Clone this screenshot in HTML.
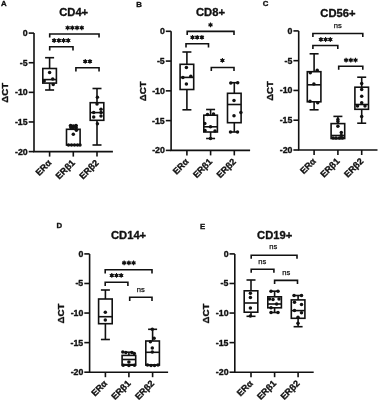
<!DOCTYPE html>
<html><head><meta charset="utf-8"><style>
html,body{margin:0;padding:0;background:#fff;}
body{width:378px;height:400px;overflow:hidden;}
svg{display:block;will-change:transform;}
text{font-family:"Liberation Sans", sans-serif;fill:#111;stroke:#111;stroke-width:0.35px;stroke-linejoin:round;}
text.ns{stroke-width:0.25px;}
circle{stroke:none;}
</style></head><body>
<svg width="378" height="400" viewBox="0 0 378 400">
<rect width="378" height="400" fill="#fff"/>
<g stroke="#111" fill="#111" stroke-linecap="butt">
<path d="M34,33.1 V151.6 M33.2,151.6 H112.9" stroke-width="1.6" fill="none"/>
<line x1="28.7" y1="33.1" x2="34" y2="33.1" stroke-width="1.6"/>
<text x="22.87" y="36.13" font-size="8.8" font-weight="bold">0</text>
<line x1="28.7" y1="62.73" x2="34" y2="62.73" stroke-width="1.6"/>
<text x="19.82" y="65.71" font-size="8.8" font-weight="bold">-5</text>
<line x1="28.7" y1="92.35" x2="34" y2="92.35" stroke-width="1.6"/>
<text x="15.04" y="95.38" font-size="8.8" font-weight="bold">-10</text>
<line x1="28.7" y1="121.97" x2="34" y2="121.97" stroke-width="1.6"/>
<text x="14.93" y="124.96" font-size="8.8" font-weight="bold">-15</text>
<line x1="28.7" y1="151.6" x2="34" y2="151.6" stroke-width="1.6"/>
<text x="15.04" y="154.63" font-size="8.8" font-weight="bold">-20</text>
<line x1="49.6" y1="151.6" x2="49.6" y2="156.6" stroke-width="1.6"/>
<text transform="translate(51.9,163.4) rotate(-45)" x="0" y="0" text-anchor="end" font-size="9" font-weight="bold">ERα</text>
<line x1="73.3" y1="151.6" x2="73.3" y2="156.6" stroke-width="1.6"/>
<text transform="translate(75.6,163.4) rotate(-45)" x="0" y="0" text-anchor="end" font-size="9" font-weight="bold">ERβ1</text>
<line x1="97" y1="151.6" x2="97" y2="156.6" stroke-width="1.6"/>
<text transform="translate(99.3,163.4) rotate(-45)" x="0" y="0" text-anchor="end" font-size="9" font-weight="bold">ERβ2</text>
<text transform="translate(4.4,92.65) rotate(-90)" x="-10.1" y="3.34" font-size="9.7" font-weight="bold">ΔCT</text>
<text x="59.22" y="16.46" font-size="11.2" font-weight="bold">CD4+</text>
<text x="0.99" y="6.38" font-size="7.8" font-weight="bold">A</text>
<line x1="49.6" y1="57.7" x2="49.6" y2="68.5" stroke-width="1.6"/>
<line x1="49.6" y1="83.1" x2="49.6" y2="90" stroke-width="1.6"/>
<line x1="45.1" y1="57.7" x2="54.1" y2="57.7" stroke-width="1.6"/>
<line x1="45.1" y1="90" x2="54.1" y2="90" stroke-width="1.6"/>
<rect x="42.8" y="68.5" width="13.6" height="14.6" fill="none" stroke-width="1.6"/>
<line x1="42.8" y1="79.6" x2="56.4" y2="79.6" stroke-width="1.6"/>
<circle cx="49.6" cy="72.4" r="1.75"/>
<circle cx="44.2" cy="81.1" r="1.75"/>
<circle cx="52.7" cy="79" r="1.75"/>
<circle cx="53.2" cy="84.6" r="1.75"/>
<line x1="73.3" y1="125.7" x2="73.3" y2="129.3" stroke-width="1.6"/>
<line x1="68.8" y1="125.7" x2="77.8" y2="125.7" stroke-width="1.6"/>
<line x1="68.8" y1="145" x2="77.8" y2="145" stroke-width="1.6"/>
<rect x="66.5" y="129.3" width="13.6" height="15.7" fill="none" stroke-width="1.6"/>
<line x1="66.5" y1="145" x2="80.1" y2="145" stroke-width="1.6"/>
<circle cx="70.6" cy="125.6" r="1.75"/>
<circle cx="73.3" cy="126" r="1.75"/>
<circle cx="76" cy="125.4" r="1.75"/>
<circle cx="70.8" cy="127.6" r="1.75"/>
<circle cx="73.3" cy="127.8" r="1.75"/>
<circle cx="76.2" cy="127.8" r="1.75"/>
<circle cx="76.4" cy="130.2" r="1.75"/>
<circle cx="73.3" cy="134.2" r="1.75"/>
<circle cx="68.5" cy="145" r="1.75"/>
<circle cx="71.5" cy="145" r="1.75"/>
<circle cx="74.5" cy="145" r="1.75"/>
<circle cx="77.5" cy="145" r="1.75"/>
<circle cx="80" cy="145" r="1.75"/>
<line x1="97" y1="88.5" x2="97" y2="102.7" stroke-width="1.6"/>
<line x1="97" y1="120.3" x2="97" y2="145" stroke-width="1.6"/>
<line x1="92.5" y1="88.5" x2="101.5" y2="88.5" stroke-width="1.6"/>
<line x1="92.5" y1="145" x2="101.5" y2="145" stroke-width="1.6"/>
<rect x="90.2" y="102.7" width="13.6" height="17.6" fill="none" stroke-width="1.6"/>
<line x1="90.2" y1="112.6" x2="103.8" y2="112.6" stroke-width="1.6"/>
<circle cx="97.4" cy="97.3" r="1.75"/>
<circle cx="97" cy="104.1" r="1.75"/>
<circle cx="101" cy="109.2" r="1.75"/>
<circle cx="93.7" cy="112.6" r="1.75"/>
<circle cx="101" cy="112.6" r="1.75"/>
<circle cx="93.7" cy="116.9" r="1.75"/>
<circle cx="101" cy="116" r="1.75"/>
<circle cx="97.4" cy="123.7" r="1.75"/>
<path d="M49.7,37.6 V34 H99.05 V37.6" stroke-width="1.6" fill="none"/>
<circle cx="67.65" cy="27.8" r="1.65"/>
<path d="M67.65,25.4L67.65,30.2M69.73,26.6L65.57,29M69.73,29L65.57,26.6" stroke-width="1.1" fill="none"/>
<circle cx="72.35" cy="27.8" r="1.65"/>
<path d="M72.35,25.4L72.35,30.2M74.43,26.6L70.27,29M74.43,29L70.27,26.6" stroke-width="1.1" fill="none"/>
<circle cx="77.05" cy="27.8" r="1.65"/>
<path d="M77.05,25.4L77.05,30.2M79.13,26.6L74.97,29M79.13,29L74.97,26.6" stroke-width="1.1" fill="none"/>
<circle cx="81.75" cy="27.8" r="1.65"/>
<path d="M81.75,25.4L81.75,30.2M83.83,26.6L79.67,29M83.83,29L79.67,26.6" stroke-width="1.1" fill="none"/>
<path d="M49.7,50.4 V46.8 H73 V50.4" stroke-width="1.6" fill="none"/>
<circle cx="54.15" cy="40.5" r="1.65"/>
<path d="M54.15,38.1L54.15,42.9M56.23,39.3L52.07,41.7M56.23,41.7L52.07,39.3" stroke-width="1.1" fill="none"/>
<circle cx="58.85" cy="40.5" r="1.65"/>
<path d="M58.85,38.1L58.85,42.9M60.93,39.3L56.77,41.7M60.93,41.7L56.77,39.3" stroke-width="1.1" fill="none"/>
<circle cx="63.55" cy="40.5" r="1.65"/>
<path d="M63.55,38.1L63.55,42.9M65.63,39.3L61.47,41.7M65.63,41.7L61.47,39.3" stroke-width="1.1" fill="none"/>
<circle cx="68.25" cy="40.5" r="1.65"/>
<path d="M68.25,38.1L68.25,42.9M70.33,39.3L66.17,41.7M70.33,41.7L66.17,39.3" stroke-width="1.1" fill="none"/>
<path d="M75.9,71.4 V67.8 H99.05 V71.4" stroke-width="1.6" fill="none"/>
<circle cx="85.25" cy="61.4" r="1.65"/>
<path d="M85.25,59L85.25,63.8M87.33,60.2L83.17,62.6M87.33,62.6L83.17,60.2" stroke-width="1.1" fill="none"/>
<circle cx="89.95" cy="61.4" r="1.65"/>
<path d="M89.95,59L89.95,63.8M92.03,60.2L87.87,62.6M92.03,62.6L87.87,60.2" stroke-width="1.1" fill="none"/>
<path d="M171.1,31.3 V150.4 M170.3,150.4 H250.1" stroke-width="1.6" fill="none"/>
<line x1="165.8" y1="31.3" x2="171.1" y2="31.3" stroke-width="1.6"/>
<text x="159.97" y="34.33" font-size="8.8" font-weight="bold">0</text>
<line x1="165.8" y1="61.08" x2="171.1" y2="61.08" stroke-width="1.6"/>
<text x="156.92" y="64.06" font-size="8.8" font-weight="bold">-5</text>
<line x1="165.8" y1="90.85" x2="171.1" y2="90.85" stroke-width="1.6"/>
<text x="152.14" y="93.88" font-size="8.8" font-weight="bold">-10</text>
<line x1="165.8" y1="120.62" x2="171.1" y2="120.62" stroke-width="1.6"/>
<text x="152.03" y="123.61" font-size="8.8" font-weight="bold">-15</text>
<line x1="165.8" y1="150.4" x2="171.1" y2="150.4" stroke-width="1.6"/>
<text x="152.14" y="153.43" font-size="8.8" font-weight="bold">-20</text>
<line x1="186.9" y1="150.4" x2="186.9" y2="155.4" stroke-width="1.6"/>
<text transform="translate(189.2,162.2) rotate(-45)" x="0" y="0" text-anchor="end" font-size="9" font-weight="bold">ERα</text>
<line x1="210.6" y1="150.4" x2="210.6" y2="155.4" stroke-width="1.6"/>
<text transform="translate(212.9,162.2) rotate(-45)" x="0" y="0" text-anchor="end" font-size="9" font-weight="bold">ERβ1</text>
<line x1="234.3" y1="150.4" x2="234.3" y2="155.4" stroke-width="1.6"/>
<text transform="translate(236.6,162.2) rotate(-45)" x="0" y="0" text-anchor="end" font-size="9" font-weight="bold">ERβ2</text>
<text transform="translate(142.5,91.15) rotate(-90)" x="-10.1" y="3.34" font-size="9.7" font-weight="bold">ΔCT</text>
<text x="196.02" y="16.26" font-size="11.2" font-weight="bold">CD8+</text>
<text x="136.2" y="6.58" font-size="7.8" font-weight="bold">B</text>
<line x1="186.9" y1="52" x2="186.9" y2="64.3" stroke-width="1.6"/>
<line x1="186.9" y1="89.5" x2="186.9" y2="109.8" stroke-width="1.6"/>
<line x1="182.4" y1="52" x2="191.4" y2="52" stroke-width="1.6"/>
<line x1="182.4" y1="109.8" x2="191.4" y2="109.8" stroke-width="1.6"/>
<rect x="180.1" y="64.3" width="13.6" height="25.2" fill="none" stroke-width="1.6"/>
<line x1="180.1" y1="77.4" x2="193.7" y2="77.4" stroke-width="1.6"/>
<circle cx="186.4" cy="67.4" r="1.75"/>
<circle cx="182.9" cy="77.4" r="1.75"/>
<circle cx="190.8" cy="76.2" r="1.75"/>
<circle cx="186.4" cy="83.9" r="1.75"/>
<line x1="210.6" y1="109.5" x2="210.6" y2="115.2" stroke-width="1.6"/>
<line x1="210.6" y1="132" x2="210.6" y2="138.5" stroke-width="1.6"/>
<line x1="206.1" y1="109.5" x2="215.1" y2="109.5" stroke-width="1.6"/>
<line x1="206.1" y1="138.5" x2="215.1" y2="138.5" stroke-width="1.6"/>
<rect x="203.8" y="115.2" width="13.6" height="16.8" fill="none" stroke-width="1.6"/>
<line x1="203.8" y1="126.8" x2="217.4" y2="126.8" stroke-width="1.6"/>
<circle cx="207.5" cy="114.5" r="1.75"/>
<circle cx="213.5" cy="114" r="1.75"/>
<circle cx="204.8" cy="123.5" r="1.75"/>
<circle cx="210.5" cy="126.8" r="1.75"/>
<circle cx="205" cy="130.5" r="1.75"/>
<circle cx="215" cy="131" r="1.75"/>
<circle cx="210.5" cy="138.5" r="1.75"/>
<line x1="234.3" y1="82.7" x2="234.3" y2="93.3" stroke-width="1.6"/>
<line x1="234.3" y1="122.7" x2="234.3" y2="132" stroke-width="1.6"/>
<line x1="229.8" y1="82.7" x2="238.8" y2="82.7" stroke-width="1.6"/>
<line x1="229.8" y1="132" x2="238.8" y2="132" stroke-width="1.6"/>
<rect x="227.5" y="93.3" width="13.6" height="29.4" fill="none" stroke-width="1.6"/>
<line x1="227.5" y1="104.5" x2="241.1" y2="104.5" stroke-width="1.6"/>
<circle cx="230.8" cy="82.9" r="1.75"/>
<circle cx="237.7" cy="82.7" r="1.75"/>
<circle cx="234" cy="100.5" r="1.75"/>
<circle cx="240.9" cy="112.5" r="1.75"/>
<circle cx="234" cy="115.7" r="1.75"/>
<circle cx="230.5" cy="132" r="1.75"/>
<circle cx="237.5" cy="132" r="1.75"/>
<path d="M187.2,35 V31.4 H234 V35" stroke-width="1.6" fill="none"/>
<circle cx="210.5" cy="24.9" r="1.65"/>
<path d="M210.5,22.5L210.5,27.3M212.58,23.7L208.42,26.1M212.58,26.1L208.42,23.7" stroke-width="1.1" fill="none"/>
<path d="M186,47.4 V43.8 H208.5 V47.4" stroke-width="1.6" fill="none"/>
<circle cx="192.5" cy="37.3" r="1.65"/>
<path d="M192.5,34.9L192.5,39.7M194.58,36.1L190.42,38.5M194.58,38.5L190.42,36.1" stroke-width="1.1" fill="none"/>
<circle cx="197.2" cy="37.3" r="1.65"/>
<path d="M197.2,34.9L197.2,39.7M199.28,36.1L195.12,38.5M199.28,38.5L195.12,36.1" stroke-width="1.1" fill="none"/>
<circle cx="201.9" cy="37.3" r="1.65"/>
<path d="M201.9,34.9L201.9,39.7M203.98,36.1L199.82,38.5M203.98,38.5L199.82,36.1" stroke-width="1.1" fill="none"/>
<path d="M211.3,71.1 V67.5 H234 V71.1" stroke-width="1.6" fill="none"/>
<circle cx="222.4" cy="60.4" r="1.65"/>
<path d="M222.4,58L222.4,62.8M224.48,59.2L220.32,61.6M224.48,61.6L220.32,59.2" stroke-width="1.1" fill="none"/>
<path d="M298.7,30.9 V150 M297.9,150 H377.5" stroke-width="1.6" fill="none"/>
<line x1="293.4" y1="30.9" x2="298.7" y2="30.9" stroke-width="1.6"/>
<text x="287.57" y="33.93" font-size="8.8" font-weight="bold">0</text>
<line x1="293.4" y1="60.67" x2="298.7" y2="60.67" stroke-width="1.6"/>
<text x="284.52" y="63.66" font-size="8.8" font-weight="bold">-5</text>
<line x1="293.4" y1="90.45" x2="298.7" y2="90.45" stroke-width="1.6"/>
<text x="279.74" y="93.48" font-size="8.8" font-weight="bold">-10</text>
<line x1="293.4" y1="120.22" x2="298.7" y2="120.22" stroke-width="1.6"/>
<text x="279.63" y="123.21" font-size="8.8" font-weight="bold">-15</text>
<line x1="293.4" y1="150" x2="298.7" y2="150" stroke-width="1.6"/>
<text x="279.74" y="153.03" font-size="8.8" font-weight="bold">-20</text>
<line x1="314.1" y1="150" x2="314.1" y2="155" stroke-width="1.6"/>
<text transform="translate(316.4,161.8) rotate(-45)" x="0" y="0" text-anchor="end" font-size="9" font-weight="bold">ERα</text>
<line x1="337.9" y1="150" x2="337.9" y2="155" stroke-width="1.6"/>
<text transform="translate(340.2,161.8) rotate(-45)" x="0" y="0" text-anchor="end" font-size="9" font-weight="bold">ERβ1</text>
<line x1="361.7" y1="150" x2="361.7" y2="155" stroke-width="1.6"/>
<text transform="translate(364,161.8) rotate(-45)" x="0" y="0" text-anchor="end" font-size="9" font-weight="bold">ERβ2</text>
<text transform="translate(269.4,90.75) rotate(-90)" x="-10.1" y="3.34" font-size="9.7" font-weight="bold">ΔCT</text>
<text x="320.31" y="17.06" font-size="11.2" font-weight="bold">CD56+</text>
<text x="262.63" y="6.39" font-size="7.8" font-weight="bold">C</text>
<line x1="314.1" y1="53.8" x2="314.1" y2="71.7" stroke-width="1.6"/>
<line x1="314.1" y1="101.8" x2="314.1" y2="109.8" stroke-width="1.6"/>
<line x1="309.6" y1="53.8" x2="318.6" y2="53.8" stroke-width="1.6"/>
<line x1="309.6" y1="109.8" x2="318.6" y2="109.8" stroke-width="1.6"/>
<rect x="307.3" y="71.7" width="13.6" height="30.1" fill="none" stroke-width="1.6"/>
<line x1="307.3" y1="84.8" x2="320.9" y2="84.8" stroke-width="1.6"/>
<circle cx="310.3" cy="72.8" r="1.75"/>
<circle cx="317.2" cy="70.3" r="1.75"/>
<circle cx="313.9" cy="84" r="1.75"/>
<circle cx="310" cy="101.2" r="1.75"/>
<circle cx="317.7" cy="102.8" r="1.75"/>
<line x1="337.9" y1="116.4" x2="337.9" y2="123.6" stroke-width="1.6"/>
<line x1="333.4" y1="116.4" x2="342.4" y2="116.4" stroke-width="1.6"/>
<line x1="333.4" y1="138.5" x2="342.4" y2="138.5" stroke-width="1.6"/>
<rect x="331.1" y="123.6" width="13.6" height="14.9" fill="none" stroke-width="1.6"/>
<line x1="331.1" y1="135.5" x2="344.7" y2="135.5" stroke-width="1.6"/>
<circle cx="337.9" cy="119.4" r="1.75"/>
<circle cx="337.9" cy="121.5" r="1.75"/>
<circle cx="337.9" cy="126.2" r="1.75"/>
<circle cx="341.3" cy="132.5" r="1.75"/>
<circle cx="333" cy="138" r="1.75"/>
<circle cx="336" cy="138" r="1.75"/>
<circle cx="339.5" cy="138" r="1.75"/>
<circle cx="342.5" cy="138" r="1.75"/>
<circle cx="341.3" cy="135.5" r="1.75"/>
<line x1="361.7" y1="77.2" x2="361.7" y2="87.2" stroke-width="1.6"/>
<line x1="361.7" y1="109.3" x2="361.7" y2="123.2" stroke-width="1.6"/>
<line x1="357.2" y1="77.2" x2="366.2" y2="77.2" stroke-width="1.6"/>
<line x1="357.2" y1="123.2" x2="366.2" y2="123.2" stroke-width="1.6"/>
<rect x="354.9" y="87.2" width="13.6" height="22.1" fill="none" stroke-width="1.6"/>
<line x1="354.9" y1="104.5" x2="368.5" y2="104.5" stroke-width="1.6"/>
<circle cx="361.7" cy="83.5" r="1.75"/>
<circle cx="361.7" cy="89.5" r="1.75"/>
<circle cx="361.7" cy="96.2" r="1.75"/>
<circle cx="361.7" cy="102.7" r="1.75"/>
<circle cx="357.5" cy="106" r="1.75"/>
<circle cx="365" cy="106" r="1.75"/>
<circle cx="361.7" cy="116.5" r="1.75"/>
<path d="M312.9,37.1 V33.5 H362.8 V37.1" stroke-width="1.6" fill="none"/>
<text x="333.77" y="27.81" font-size="7.6" font-weight="normal" class="ns">ns</text>
<path d="M312.9,49.1 V45.5 H337.8 V49.1" stroke-width="1.6" fill="none"/>
<circle cx="320.9" cy="39.5" r="1.65"/>
<path d="M320.9,37.1L320.9,41.9M322.98,38.3L318.82,40.7M322.98,40.7L318.82,38.3" stroke-width="1.1" fill="none"/>
<circle cx="325.6" cy="39.5" r="1.65"/>
<path d="M325.6,37.1L325.6,41.9M327.68,38.3L323.52,40.7M327.68,40.7L323.52,38.3" stroke-width="1.1" fill="none"/>
<circle cx="330.3" cy="39.5" r="1.65"/>
<path d="M330.3,37.1L330.3,41.9M332.38,38.3L328.22,40.7M332.38,40.7L328.22,38.3" stroke-width="1.1" fill="none"/>
<path d="M338.7,69.8 V66.2 H362.8 V69.8" stroke-width="1.6" fill="none"/>
<circle cx="346.1" cy="60.1" r="1.65"/>
<path d="M346.1,57.7L346.1,62.5M348.18,58.9L344.02,61.3M348.18,61.3L344.02,58.9" stroke-width="1.1" fill="none"/>
<circle cx="350.8" cy="60.1" r="1.65"/>
<path d="M350.8,57.7L350.8,62.5M352.88,58.9L348.72,61.3M352.88,61.3L348.72,58.9" stroke-width="1.1" fill="none"/>
<circle cx="355.5" cy="60.1" r="1.65"/>
<path d="M355.5,57.7L355.5,62.5M357.58,58.9L353.42,61.3M357.58,61.3L353.42,58.9" stroke-width="1.1" fill="none"/>
<path d="M89.6,253.9 V372.2 M88.8,372.2 H168.1" stroke-width="1.6" fill="none"/>
<line x1="84.3" y1="253.9" x2="89.6" y2="253.9" stroke-width="1.6"/>
<text x="78.47" y="256.93" font-size="8.8" font-weight="bold">0</text>
<line x1="84.3" y1="283.48" x2="89.6" y2="283.48" stroke-width="1.6"/>
<text x="75.42" y="286.46" font-size="8.8" font-weight="bold">-5</text>
<line x1="84.3" y1="313.05" x2="89.6" y2="313.05" stroke-width="1.6"/>
<text x="70.64" y="316.08" font-size="8.8" font-weight="bold">-10</text>
<line x1="84.3" y1="342.62" x2="89.6" y2="342.62" stroke-width="1.6"/>
<text x="70.53" y="345.61" font-size="8.8" font-weight="bold">-15</text>
<line x1="84.3" y1="372.2" x2="89.6" y2="372.2" stroke-width="1.6"/>
<text x="70.64" y="375.23" font-size="8.8" font-weight="bold">-20</text>
<line x1="105.4" y1="372.2" x2="105.4" y2="377.2" stroke-width="1.6"/>
<text transform="translate(107.7,384) rotate(-45)" x="0" y="0" text-anchor="end" font-size="9" font-weight="bold">ERα</text>
<line x1="128.9" y1="372.2" x2="128.9" y2="377.2" stroke-width="1.6"/>
<text transform="translate(131.2,384) rotate(-45)" x="0" y="0" text-anchor="end" font-size="9" font-weight="bold">ERβ1</text>
<line x1="152.6" y1="372.2" x2="152.6" y2="377.2" stroke-width="1.6"/>
<text transform="translate(154.9,384) rotate(-45)" x="0" y="0" text-anchor="end" font-size="9" font-weight="bold">ERβ2</text>
<text transform="translate(60.4,313.35) rotate(-90)" x="-10.1" y="3.34" font-size="9.7" font-weight="bold">ΔCT</text>
<text x="111.01" y="239.06" font-size="11.2" font-weight="bold">CD14+</text>
<text x="56.59" y="228.38" font-size="7.8" font-weight="bold">D</text>
<line x1="105.4" y1="290" x2="105.4" y2="299" stroke-width="1.6"/>
<line x1="105.4" y1="323.7" x2="105.4" y2="339.5" stroke-width="1.6"/>
<line x1="100.9" y1="290" x2="109.9" y2="290" stroke-width="1.6"/>
<line x1="100.9" y1="339.5" x2="109.9" y2="339.5" stroke-width="1.6"/>
<rect x="98.6" y="299" width="13.6" height="24.7" fill="none" stroke-width="1.6"/>
<line x1="98.6" y1="316.7" x2="112.2" y2="316.7" stroke-width="1.6"/>
<circle cx="105.3" cy="312.2" r="1.75"/>
<circle cx="105.3" cy="320" r="1.75"/>
<line x1="128.9" y1="352.2" x2="128.9" y2="355.4" stroke-width="1.6"/>
<line x1="128.9" y1="364.6" x2="128.9" y2="365.2" stroke-width="1.6"/>
<line x1="124.4" y1="352.2" x2="133.4" y2="352.2" stroke-width="1.6"/>
<line x1="124.4" y1="365.2" x2="133.4" y2="365.2" stroke-width="1.6"/>
<rect x="122.1" y="355.4" width="13.6" height="9.2" fill="none" stroke-width="1.6"/>
<line x1="122.1" y1="359.5" x2="135.7" y2="359.5" stroke-width="1.6"/>
<circle cx="122.8" cy="352" r="1.75"/>
<circle cx="125.8" cy="352.4" r="1.75"/>
<circle cx="131.8" cy="352.6" r="1.75"/>
<circle cx="134.3" cy="353.6" r="1.75"/>
<circle cx="128.9" cy="362" r="1.75"/>
<circle cx="123.2" cy="365.3" r="1.75"/>
<circle cx="128.9" cy="365.5" r="1.75"/>
<circle cx="134.5" cy="365.3" r="1.75"/>
<line x1="152.6" y1="329.3" x2="152.6" y2="341" stroke-width="1.6"/>
<line x1="148.1" y1="329.3" x2="157.1" y2="329.3" stroke-width="1.6"/>
<line x1="148.1" y1="365.1" x2="157.1" y2="365.1" stroke-width="1.6"/>
<rect x="145.8" y="341" width="13.6" height="24.1" fill="none" stroke-width="1.6"/>
<line x1="145.8" y1="352.3" x2="159.4" y2="352.3" stroke-width="1.6"/>
<circle cx="152.3" cy="329.3" r="1.75"/>
<circle cx="154.1" cy="338.3" r="1.75"/>
<circle cx="150.4" cy="341.8" r="1.75"/>
<circle cx="152.3" cy="348" r="1.75"/>
<circle cx="152.3" cy="352" r="1.75"/>
<circle cx="147.5" cy="365" r="1.75"/>
<circle cx="151" cy="365.5" r="1.75"/>
<circle cx="154.5" cy="365.5" r="1.75"/>
<circle cx="158" cy="365" r="1.75"/>
<path d="M105.2,273.4 V269.8 H152 V273.4" stroke-width="1.6" fill="none"/>
<circle cx="124.15" cy="262.9" r="1.65"/>
<path d="M124.15,260.5L124.15,265.3M126.23,261.7L122.07,264.1M126.23,264.1L122.07,261.7" stroke-width="1.1" fill="none"/>
<circle cx="128.85" cy="262.9" r="1.65"/>
<path d="M128.85,260.5L128.85,265.3M130.93,261.7L126.77,264.1M130.93,264.1L126.77,261.7" stroke-width="1.1" fill="none"/>
<circle cx="133.55" cy="262.9" r="1.65"/>
<path d="M133.55,260.5L133.55,265.3M135.63,261.7L131.47,264.1M135.63,264.1L131.47,261.7" stroke-width="1.1" fill="none"/>
<path d="M105.2,285.9 V282.3 H127.9 V285.9" stroke-width="1.6" fill="none"/>
<circle cx="111.8" cy="275.4" r="1.65"/>
<path d="M111.8,273L111.8,277.8M113.88,274.2L109.72,276.6M113.88,276.6L109.72,274.2" stroke-width="1.1" fill="none"/>
<circle cx="116.5" cy="275.4" r="1.65"/>
<path d="M116.5,273L116.5,277.8M118.58,274.2L114.42,276.6M118.58,276.6L114.42,274.2" stroke-width="1.1" fill="none"/>
<circle cx="121.2" cy="275.4" r="1.65"/>
<path d="M121.2,273L121.2,277.8M123.28,274.2L119.12,276.6M123.28,276.6L119.12,274.2" stroke-width="1.1" fill="none"/>
<path d="M129.7,300.9 V297.3 H152 V300.9" stroke-width="1.6" fill="none"/>
<text x="136.67" y="292.11" font-size="7.6" font-weight="normal" class="ns">ns</text>
<path d="M234.8,253.9 V372.2 M234,372.2 H313.7" stroke-width="1.6" fill="none"/>
<line x1="229.5" y1="253.9" x2="234.8" y2="253.9" stroke-width="1.6"/>
<text x="223.67" y="256.93" font-size="8.8" font-weight="bold">0</text>
<line x1="229.5" y1="283.48" x2="234.8" y2="283.48" stroke-width="1.6"/>
<text x="220.62" y="286.46" font-size="8.8" font-weight="bold">-5</text>
<line x1="229.5" y1="313.05" x2="234.8" y2="313.05" stroke-width="1.6"/>
<text x="215.84" y="316.08" font-size="8.8" font-weight="bold">-10</text>
<line x1="229.5" y1="342.62" x2="234.8" y2="342.62" stroke-width="1.6"/>
<text x="215.73" y="345.61" font-size="8.8" font-weight="bold">-15</text>
<line x1="229.5" y1="372.2" x2="234.8" y2="372.2" stroke-width="1.6"/>
<text x="215.84" y="375.23" font-size="8.8" font-weight="bold">-20</text>
<line x1="251" y1="372.2" x2="251" y2="377.2" stroke-width="1.6"/>
<text transform="translate(253.3,384) rotate(-45)" x="0" y="0" text-anchor="end" font-size="9" font-weight="bold">ERα</text>
<line x1="274.6" y1="372.2" x2="274.6" y2="377.2" stroke-width="1.6"/>
<text transform="translate(276.9,384) rotate(-45)" x="0" y="0" text-anchor="end" font-size="9" font-weight="bold">ERβ1</text>
<line x1="298.1" y1="372.2" x2="298.1" y2="377.2" stroke-width="1.6"/>
<text transform="translate(300.4,384) rotate(-45)" x="0" y="0" text-anchor="end" font-size="9" font-weight="bold">ERβ2</text>
<text transform="translate(205.5,313.35) rotate(-90)" x="-10.1" y="3.34" font-size="9.7" font-weight="bold">ΔCT</text>
<text x="257.11" y="239.46" font-size="11.2" font-weight="bold">CD19+</text>
<text x="200.09" y="228.68" font-size="7.8" font-weight="bold">E</text>
<line x1="251" y1="280" x2="251" y2="290.8" stroke-width="1.6"/>
<line x1="251" y1="312.2" x2="251" y2="316.3" stroke-width="1.6"/>
<line x1="246.5" y1="280" x2="255.5" y2="280" stroke-width="1.6"/>
<line x1="246.5" y1="316.3" x2="255.5" y2="316.3" stroke-width="1.6"/>
<rect x="244.2" y="290.8" width="13.6" height="21.4" fill="none" stroke-width="1.6"/>
<line x1="244.2" y1="303" x2="257.8" y2="303" stroke-width="1.6"/>
<circle cx="250.4" cy="293.2" r="1.75"/>
<circle cx="250.4" cy="297.4" r="1.75"/>
<circle cx="250.4" cy="308" r="1.75"/>
<circle cx="250.4" cy="316" r="1.75"/>
<line x1="274.6" y1="291.2" x2="274.6" y2="296.8" stroke-width="1.6"/>
<line x1="274.6" y1="307.8" x2="274.6" y2="312.5" stroke-width="1.6"/>
<line x1="270.1" y1="291.2" x2="279.1" y2="291.2" stroke-width="1.6"/>
<line x1="270.1" y1="312.5" x2="279.1" y2="312.5" stroke-width="1.6"/>
<rect x="267.8" y="296.8" width="13.6" height="11" fill="none" stroke-width="1.6"/>
<line x1="267.8" y1="304" x2="281.4" y2="304" stroke-width="1.6"/>
<circle cx="271" cy="291.2" r="1.75"/>
<circle cx="278" cy="291.2" r="1.75"/>
<circle cx="269.5" cy="299" r="1.75"/>
<circle cx="273" cy="299.5" r="1.75"/>
<circle cx="279" cy="299" r="1.75"/>
<circle cx="276.6" cy="304" r="1.75"/>
<circle cx="271" cy="307.8" r="1.75"/>
<circle cx="271" cy="312.5" r="1.75"/>
<circle cx="278" cy="312.5" r="1.75"/>
<line x1="298.1" y1="295.5" x2="298.1" y2="299.9" stroke-width="1.6"/>
<line x1="298.1" y1="318.3" x2="298.1" y2="326.7" stroke-width="1.6"/>
<line x1="293.6" y1="295.5" x2="302.6" y2="295.5" stroke-width="1.6"/>
<line x1="293.6" y1="326.7" x2="302.6" y2="326.7" stroke-width="1.6"/>
<rect x="291.3" y="299.9" width="13.6" height="18.4" fill="none" stroke-width="1.6"/>
<line x1="291.3" y1="310.6" x2="304.9" y2="310.6" stroke-width="1.6"/>
<circle cx="294" cy="295.5" r="1.75"/>
<circle cx="301.5" cy="295.5" r="1.75"/>
<circle cx="294.5" cy="302.3" r="1.75"/>
<circle cx="301.5" cy="304.5" r="1.75"/>
<circle cx="294.5" cy="310.5" r="1.75"/>
<circle cx="301.5" cy="312.8" r="1.75"/>
<circle cx="298" cy="317.2" r="1.75"/>
<circle cx="298" cy="323.2" r="1.75"/>
<path d="M251.2,258.8 V255.2 H297 V258.8" stroke-width="1.6" fill="none"/>
<text x="269.27" y="249.21" font-size="7.6" font-weight="normal" class="ns">ns</text>
<path d="M251.2,272.8 V269.2 H273.9 V272.8" stroke-width="1.6" fill="none"/>
<text x="258.37" y="263.51" font-size="7.6" font-weight="normal" class="ns">ns</text>
<path d="M274.6,284 V280.4 H297.5 V284" stroke-width="1.6" fill="none"/>
<text x="282.27" y="274.81" font-size="7.6" font-weight="normal" class="ns">ns</text>
</g>
</svg>
</body></html>
